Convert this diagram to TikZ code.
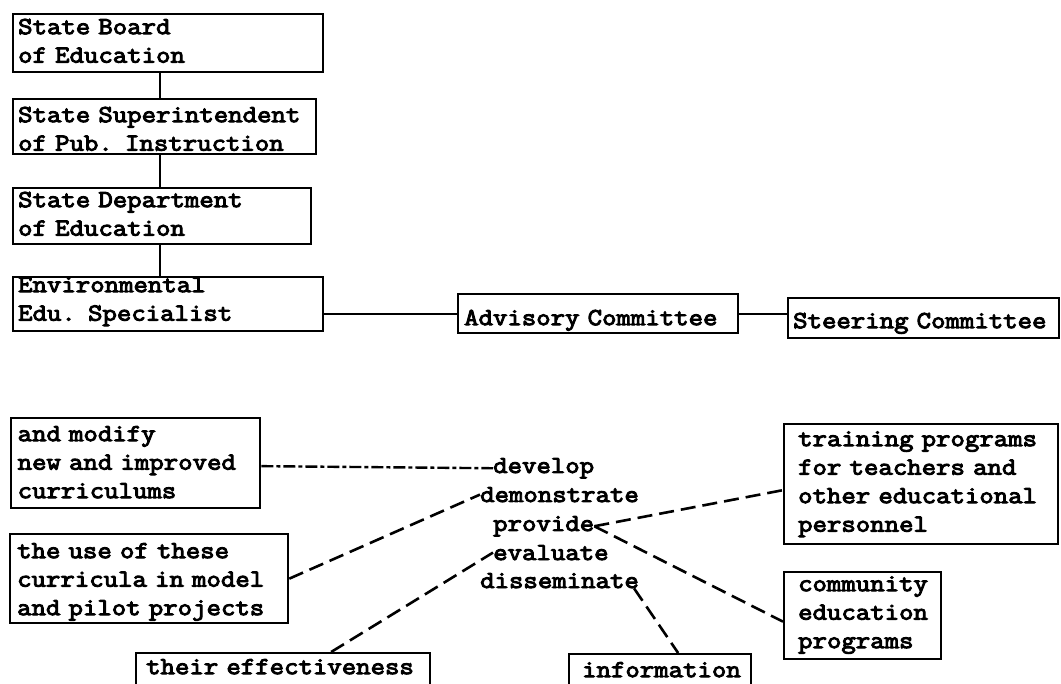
\documentclass[tikz,border=0pt]{standalone}
\usepackage{fontspec}
% typewriter face: Latin Modern Mono, widened and inked heavier
\newfontfamily\tw{Latin Modern Mono}[FakeBold=4, FakeStretch=1.143]
\newcommand\cellspace{\fontdimen2\font=\fontcharwd\font`a \fontdimen3\font=0pt \fontdimen4\font=0pt }
% one typed line, never broken
\newcommand\tl[1]{\mbox{#1}}
\begin{document}
\begin{tikzpicture}[x=1pt,y=-1pt,
  txt/.style={font=\tw\fontsize{24.5}{28.5}\selectfont\cellspace},
  % box edges are set by text height (top to first baseline) and text depth (first baseline to bottom)
  box/.style={txt, draw, line width=2.3pt, anchor=north west, align=left,
              inner xsep=6pt, inner ysep=0pt},
  verb/.style={txt, anchor=base west, inner sep=0pt},
  link/.style={line width=2.2pt},
  dlink/.style={line width=2.6pt, dash pattern=on 15pt off 7pt},
  dlinkfine/.style={line width=2.4pt, dash pattern=on 12pt off 3pt on 4pt off 3pt}]

\useasboundingbox (0,0) rectangle (1061,684);
\clip (0,0) rectangle (1061,684);

% chain of state offices
\node[box, inner xsep=5pt, text width=300pt, text height=20pt, text depth=38pt] (b1) at (12,13)
  {\tl{State Board}\\\tl{of Education}};
\node[box, inner xsep=5pt, text width=293pt, text height=23pt, text depth=32pt] (b2) at (12,98)
  {\tl{State Superintendent}\\\tl{of Pub. Instruction}};
\node[box, inner xsep=5pt, text width=288pt, text height=19pt, text depth=37pt] (b3) at (12,187)
  {\tl{State Department}\\\tl{of Education}};
\node[box, inner xsep=5pt, text width=300pt, text height=15pt, text depth=39pt] (b4) at (12,276)
  {\tl{Environmental}\\\tl{Edu. Specialist}};

\node[box, inner xsep=6pt, text width=268pt, text height=31pt, text depth=8pt] (adv) at (457,293)
  {\tl{Advisory Committee}};
\node[box, inner xsep=5pt, text width=261pt, text height=30pt, text depth=10pt] (steer) at (787,297)
  {\tl{Steering Committee}};

\coordinate (spine) at (160,0);
\draw[link] (b1.south -| spine) -- (b2.north -| spine);
\draw[link] (b2.south -| spine) -- (b3.north -| spine);
\draw[link] (b3.south -| spine) -- (b4.north -| spine);
\draw[link] (b4.east |- adv.west) -- (adv.west);
\draw[link] (adv.east) -- (adv.east -| steer.west);

% objects of the activities
\node[box, inner xsep=6.5pt, text width=236pt, text height=23pt, text depth=67pt] (m1) at (10,417)
  {\tl{and modify}\\\tl{new and improved}\\\tl{curriculums}};
\node[box, inner xsep=7pt, text width=264pt, text height=24pt, text depth=65pt] (m2) at (9,533)
  {\tl{the use of these}\\\tl{curricula in model}\\\tl{and pilot projects}};
\node[box, inner xsep=10pt, text width=274pt, text height=21pt, text depth=40pt] (m3) at (135,652)
  {\tl{their effectiveness}};
\node[box, inner xsep=13pt, text width=156pt, text height=23pt, text depth=40pt] (info) at (568,653)
  {\tl{information}};
\node[box, inner xsep=14pt, text width=246pt, text height=22pt, text depth=98pt] (t1) at (783,423)
  {\tl{training programs}\\\tl{for teachers and}\\\tl{other educational}\\\tl{personnel}};
\node[box, inner xsep=14pt, text width=129pt, text height=19pt, text depth=68pt] (t2) at (783,571)
  {\tl{community}\\\tl{education}\\\tl{programs}};

% the activities
\node[verb] (dev) at (493,473) {develop};
\node[verb] (dem) at (480,502) {demonstrate};
\node[verb] (pro) at (493,531) {provide};
\node[verb] (eva) at (493,560) {evaluate};
\node[verb] (dis) at (480,588) {disseminate};

\draw[dlinkfine] ([yshift=-3pt]m1.east) -- (dev.west);
\draw[dlink] (m2.east) -- (dem.west);
\draw[dlink] ([xshift=48pt]m3.north) -- (eva.west);
\draw[dlink] (pro.east) -- ([yshift=-6pt]t1.west);
\draw[dlink] (pro.east) -- ([yshift=-6pt]t2.west);
\draw[dlink] ([xshift=-5pt]dis.south east) -- ([xshift=18pt]info.north);
\end{tikzpicture}
\end{document}
